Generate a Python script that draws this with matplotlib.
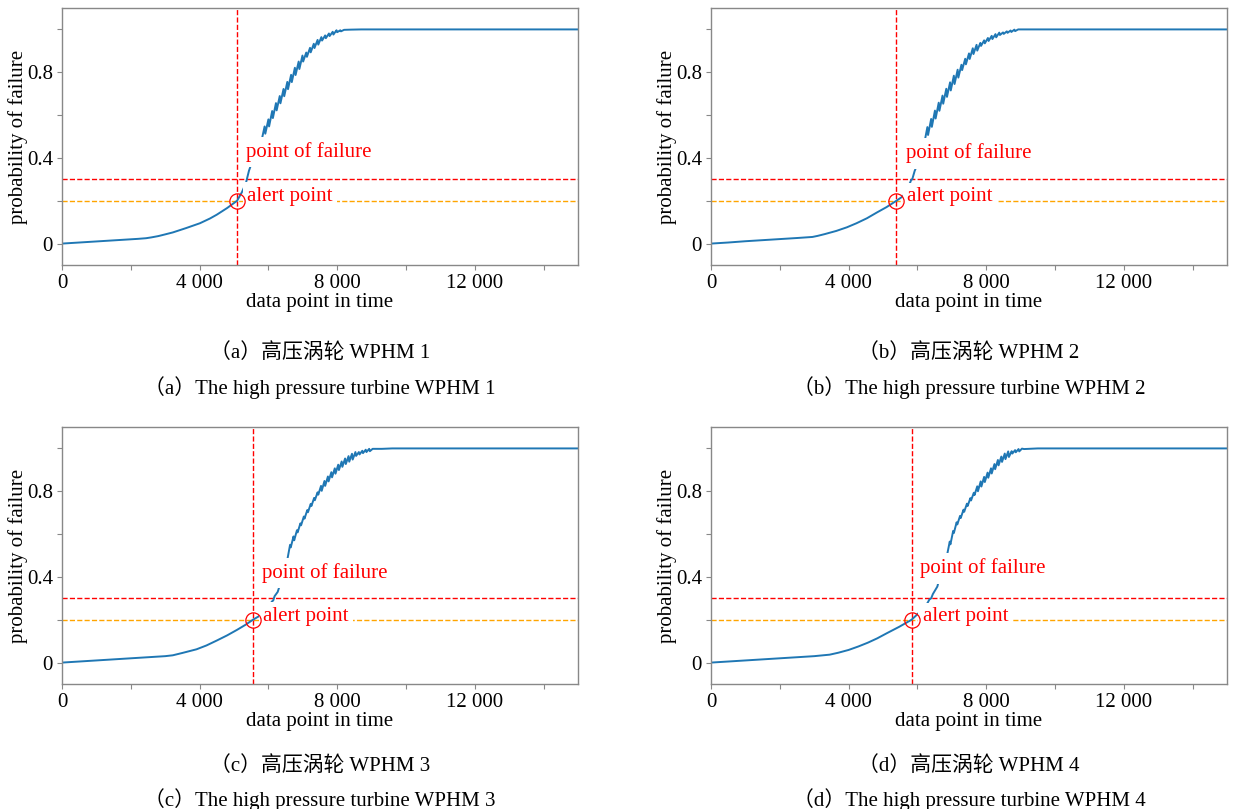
import matplotlib
matplotlib.use("Agg")
import matplotlib.pyplot as plt

# probability-of-failure curves (data point, probability)
wphm1_points = [
    (0, 0), (500, 0.005), (1000, 0.010), (1500, 0.015), (2000, 0.020), (2200, 0.022),
    (2440, 0.025), (2600, 0.029), (2800, 0.035), (3000, 0.043), (3220, 0.052),
    (3600, 0.072), (4010, 0.095), (4300, 0.117), (4500, 0.135), (4800, 0.166),
    (5090, 0.200), (5170, 0.223), (5230, 0.240), (5290, 0.262), (5350, 0.285),
    (5435, 0.340), (5500, 0.370), (5600, 0.410), (5700, 0.450), (5800, 0.480),
    (5890, 0.547), (5910, 0.513), (6000, 0.580), (6020, 0.547), (6110, 0.619),
    (6130, 0.586), (6220, 0.656), (6240, 0.622), (6330, 0.689), (6350, 0.655),
    (6440, 0.722), (6460, 0.688), (6550, 0.755), (6570, 0.721), (6660, 0.788),
    (6680, 0.754), (6770, 0.821), (6790, 0.787), (6880, 0.850), (6900, 0.815),
    (6990, 0.878), (7010, 0.850), (7100, 0.892), (7120, 0.872), (7210, 0.914),
    (7230, 0.893), (7320, 0.933), (7340, 0.913), (7430, 0.951), (7450, 0.929),
    (7540, 0.964), (7560, 0.948), (7650, 0.972), (7670, 0.959), (7760, 0.981),
    (7780, 0.969), (7870, 0.989), (7890, 0.976), (7980, 0.996), (8000, 0.987),
    (8090, 0.996), (8110, 0.991), (8200, 0.998), (8400, 0.999), (8700, 1.0),
    (15000, 1.0),
]
wphm2_points = [
    (0, 0), (500, 0.005), (1000, 0.011), (1500, 0.016), (2000, 0.021), (2500, 0.026),
    (2950, 0.031), (3100, 0.036), (3300, 0.044), (3640, 0.059), (3950, 0.076),
    (4230, 0.095), (4530, 0.118), (4820, 0.145), (5100, 0.170), (5390, 0.200),
    (5590, 0.222), (5740, 0.272), (5790, 0.285), (5820, 0.298), (5850, 0.300),
    (5920, 0.339), (6000, 0.370), (6100, 0.420), (6200, 0.468), (6290, 0.544),
    (6310, 0.507), (6400, 0.582), (6420, 0.545), (6510, 0.621), (6530, 0.584),
    (6620, 0.658), (6640, 0.620), (6730, 0.691), (6750, 0.653), (6840, 0.723),
    (6860, 0.685), (6950, 0.753), (6970, 0.715), (7060, 0.784), (7080, 0.745),
    (7170, 0.812), (7190, 0.775), (7280, 0.835), (7300, 0.810), (7390, 0.863),
    (7410, 0.837), (7500, 0.888), (7520, 0.862), (7610, 0.912), (7630, 0.885),
    (7720, 0.928), (7740, 0.901), (7830, 0.937), (7850, 0.923), (7940, 0.949),
    (7960, 0.935), (8050, 0.960), (8070, 0.946), (8160, 0.970), (8180, 0.955),
    (8270, 0.978), (8290, 0.963), (8380, 0.985), (8400, 0.974), (8490, 0.986),
    (8510, 0.979), (8600, 0.991), (8620, 0.984), (8710, 0.995), (8730, 0.988),
    (8820, 0.999), (8840, 0.992), (8930, 1.0), (9000, 1.0), (15000, 1.0),
]
wphm3_points = [
    (0, 0), (500, 0.005), (1000, 0.010), (1500, 0.015), (2000, 0.020), (2500, 0.025),
    (3000, 0.030), (3220, 0.034), (3500, 0.045), (3910, 0.062), (4200, 0.080),
    (4500, 0.103), (4800, 0.127), (5090, 0.153), (5330, 0.176), (5550, 0.200),
    (5710, 0.215), (5880, 0.240), (6040, 0.268), (6100, 0.285), (6140, 0.290),
    (6180, 0.310), (6270, 0.330), (6350, 0.370), (6450, 0.430), (6550, 0.480),
    (6630, 0.550), (6650, 0.538), (6730, 0.589), (6750, 0.571), (6830, 0.618),
    (6850, 0.608), (6930, 0.650), (6950, 0.641), (7030, 0.682), (7050, 0.672),
    (7130, 0.712), (7150, 0.702), (7230, 0.741), (7250, 0.731), (7330, 0.769),
    (7350, 0.758), (7430, 0.795), (7450, 0.784), (7530, 0.825), (7550, 0.802),
    (7630, 0.848), (7650, 0.825), (7730, 0.869), (7750, 0.846), (7830, 0.889),
    (7850, 0.865), (7930, 0.907), (7950, 0.882), (8030, 0.924), (8050, 0.899),
    (8130, 0.939), (8150, 0.914), (8230, 0.953), (8250, 0.927), (8330, 0.964),
    (8350, 0.938), (8430, 0.975), (8450, 0.948), (8530, 0.983), (8550, 0.965),
    (8630, 0.983), (8650, 0.972), (8730, 0.989), (8750, 0.978), (8830, 0.994),
    (8850, 0.983), (8930, 0.998), (8950, 0.987), (9030, 0.998), (9300, 0.998),
    (9600, 1.0), (15000, 1.0),
]
wphm4_points = [
    (0, 0), (500, 0.005), (1000, 0.010), (1500, 0.015), (2000, 0.020), (2500, 0.025),
    (3000, 0.030), (3450, 0.037), (3700, 0.046), (4000, 0.059), (4280, 0.075),
    (4560, 0.093), (4830, 0.113), (5110, 0.137), (5470, 0.167), (5830, 0.200),
    (6030, 0.230), (6140, 0.250), (6240, 0.266), (6300, 0.280), (6350, 0.295),
    (6400, 0.300), (6450, 0.320), (6580, 0.355), (6650, 0.400), (6750, 0.460),
    (6860, 0.500), (6940, 0.565), (6960, 0.552), (7040, 0.615), (7060, 0.605),
    (7140, 0.655), (7160, 0.645), (7240, 0.685), (7260, 0.675), (7340, 0.714),
    (7360, 0.704), (7440, 0.742), (7460, 0.731), (7540, 0.768), (7560, 0.757),
    (7640, 0.793), (7660, 0.782), (7740, 0.823), (7760, 0.800), (7840, 0.846),
    (7860, 0.822), (7940, 0.867), (7960, 0.843), (8040, 0.887), (8060, 0.863),
    (8140, 0.907), (8160, 0.883), (8240, 0.927), (8260, 0.903), (8340, 0.946),
    (8360, 0.921), (8440, 0.962), (8460, 0.937), (8540, 0.976), (8560, 0.950),
    (8640, 0.986), (8660, 0.960), (8740, 0.987), (8760, 0.976), (8840, 0.992),
    (8860, 0.982), (8940, 0.997), (8960, 0.986), (9040, 0.999), (9100, 0.997),
    (9500, 1.0), (15000, 1.0),
]

alert_level = 0.2
failure_level = 0.3
alert_x = [5090, 5390, 5550, 5830]
failure_text_x = [5356, 5673, 5818, 6073]
failure_text_y = [0.427, 0.421, 0.417, 0.440]
alert_text_x = [5386, 5703, 5848, 6150]
alert_text_y = [0.222, 0.220, 0.217, 0.214]

x_ticks = [0, 4000, 8000, 12000]
x_tick_labels = ["0", "4 000", "8 000", "12 000"]
y_ticks = [0, 0.4, 0.8]
y_tick_labels = ["0", "0.4", "0.8"]

captions_cn = ["（a）高压涡轮 WPHM 1", "（b）高压涡轮 WPHM 2",
               "（c）高压涡轮 WPHM 3", "（d）高压涡轮 WPHM 4"]
captions_en = ["（a）The high pressure turbine WPHM 1", "（b）The high pressure turbine WPHM 2",
               "（c）The high pressure turbine WPHM 3", "（d）The high pressure turbine WPHM 4"]

plt.rcParams['font.family'] = ['Liberation Serif', 'Noto Sans CJK SC']
plt.rcParams['font.size'] = 15

W, H = 1237, 809
fig = plt.figure(figsize=(W / 100, H / 100), dpi=100)

# panel frames in pixels: left, top
frames = [(62, 8), (711, 8), (62, 427), (711, 427)]
ax_w, ax_h = 516, 257
caption_y = [(353, 388), (353, 388), (766, 800), (766, 800)]

curves = [wphm1_points, wphm2_points, wphm3_points, wphm4_points]

for i, pts in enumerate(curves):
    left, top = frames[i]
    ax = fig.add_axes([left / W, 1 - (top + ax_h) / H, ax_w / W, ax_h / H])
    xs = [p[0] for p in pts]
    ys = [p[1] for p in pts]
    ax.plot(xs, ys, color='#1f77b4', lw=1.4, zorder=2)

    ax.axhline(failure_level, color='red', ls='--', lw=1.0, zorder=1)
    ax.axhline(alert_level, color='orange', ls='--', lw=1.0, zorder=1)
    ax.axvline(alert_x[i], color='red', ls='--', lw=1.0, zorder=1)
    ax.plot([alert_x[i]], [alert_level], 'o', mfc='none', mec='red', ms=11, mew=0.9, zorder=5)

    ax.text(failure_text_x[i], failure_text_y[i], 'point of failure', color='red',
            va='center', ha='left', fontsize=15,
            bbox=dict(boxstyle='square,pad=0.25', fc='white', ec='none'), zorder=4)
    ax.text(alert_text_x[i], alert_text_y[i], 'alert point', color='red',
            va='center', ha='left', fontsize=15,
            bbox=dict(boxstyle='square,pad=0.2', fc='white', ec='none'), zorder=4)

    ax.set_xlim(0, 15000)
    ax.set_ylim(-0.1, 1.1)
    ax.set_xticks(x_ticks)
    ax.set_xticklabels(x_tick_labels)
    ax.set_xticks([2000, 6000, 10000, 14000], minor=True)
    ax.set_yticks(y_ticks)
    ax.set_yticklabels(y_tick_labels)
    ax.set_yticks([0.2, 0.6, 1.0], minor=True)
    ax.tick_params(which='both', length=3.5, width=0.8, color='#888888', labelsize=15, pad=3)
    for sp in ax.spines.values():
        sp.set_color('#888888')
        sp.set_linewidth(1.0)
    ax.set_xlabel('data point in time', fontsize=15, labelpad=0)
    ax.set_ylabel('probability of failure', fontsize=15, labelpad=-1)

    cx = (left + ax_w / 2) / W
    fig.text(cx, 1 - caption_y[i][0] / H, captions_cn[i], ha='center', va='center', fontsize=15)
    fig.text(cx, 1 - caption_y[i][1] / H, captions_en[i], ha='center', va='center', fontsize=15)

fig.savefig('out.png', dpi=100)
